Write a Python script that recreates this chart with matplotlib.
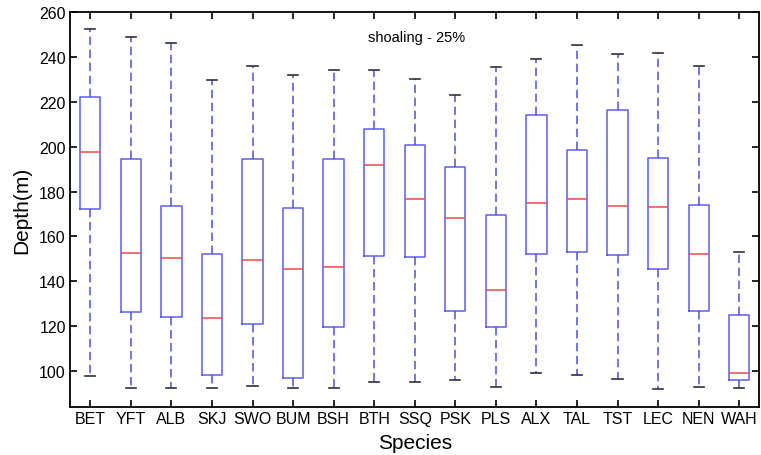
import matplotlib.pyplot as plt

plt.rcParams["font.family"] = ["Liberation Sans", "DejaVu Sans"]

species = ["BET", "YFT", "ALB", "SKJ", "SWO", "BUM", "BSH", "BTH", "SSQ",
           "PSK", "PLS", "ALX", "TAL", "TST", "LEC", "NEN", "WAH"]
whisker_low = [97.6, 92.4, 92.4, 92.4, 93.2, 92.4, 92.4, 95.2, 95.2,
               96.0, 92.6, 98.8, 98.2, 96.3, 92.0, 92.6, 92.4]
q1 = [172.2, 126.1, 124.1, 98.1, 120.9, 96.6, 119.5, 151.2, 150.9,
      126.9, 119.7, 152.3, 153.1, 151.7, 145.3, 126.9, 96.0]
median = [197.7, 152.6, 150.3, 123.6, 149.3, 145.3, 146.5, 191.9, 176.5,
          168.3, 136.2, 175.0, 176.8, 173.6, 173.2, 152.1, 98.8]
q3 = [222.2, 194.6, 173.6, 152.3, 194.6, 172.5, 194.3, 208.1, 200.8,
      191.0, 169.3, 214.2, 198.4, 216.3, 194.9, 173.9, 124.9]
whisker_high = [252.5, 248.9, 246.2, 229.8, 235.9, 231.8, 234.2, 234.2, 230.1,
                223.2, 235.7, 239.1, 245.5, 241.2, 241.6, 236.0, 152.9]

stats = []
for i, name in enumerate(species):
    stats.append({"label": name, "whislo": whisker_low[i], "q1": q1[i],
                  "med": median[i], "q3": q3[i], "whishi": whisker_high[i],
                  "fliers": []})

fig = plt.figure(figsize=(7.61, 4.56), dpi=100)
ax = fig.add_axes([0.092, 0.106, 0.906, 0.865])

ax.bxp(stats, positions=range(1, len(species) + 1), widths=0.5,
       capwidths=0.25, showfliers=False,
       boxprops=dict(color="#5c5cf0", linewidth=1.1),
       medianprops=dict(color="#f04848", linewidth=1.1),
       whiskerprops=dict(color="#5050d8", linewidth=1.1, linestyle=(0, (5.5, 3))),
       capprops=dict(color="#303040", linewidth=1.2))

ax.set_xlim(0.5, 17.5)
ax.set_ylim(84, 260)
ax.set_yticks(range(100, 261, 20))
ax.tick_params(direction="in", length=5, width=1.2, top=True, right=True,
               labelsize=11.5, pad=3)
for s in ax.spines.values():
    s.set_linewidth(1.3)

ax.text(9.05, 249, "shoaling - 25%", ha="center", va="center", fontsize=10.5)
ax.set_xlabel("Species", fontsize=15, labelpad=5)
ax.set_ylabel("Depth(m)", fontsize=15, labelpad=6)

fig.savefig("out.png", dpi=100)
